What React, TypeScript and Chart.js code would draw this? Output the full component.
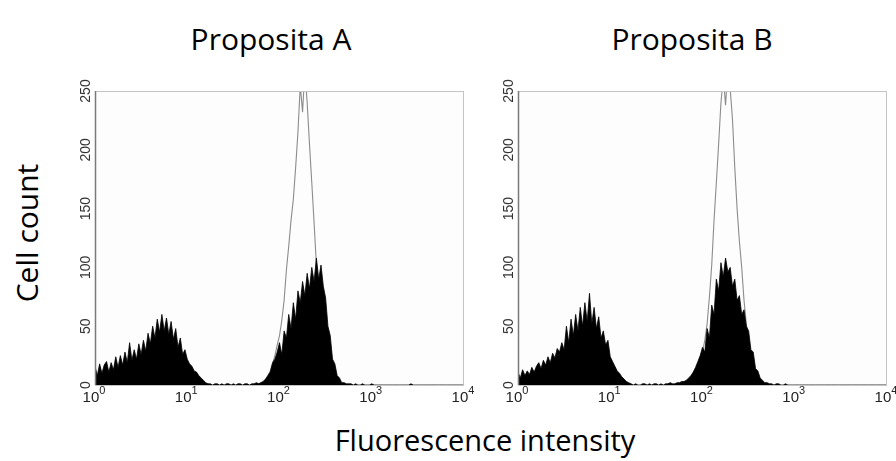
import React, { useEffect, useRef } from "react";
import { Chart, registerables } from "chart.js";

Chart.register(...registerables);

// Histogram channels: 40 channels per decade, channel i -> intensity 10^(i/40)
const CHANNELS_PER_DECADE = 40;
const OUTLINE_START = 70;

const Y_TICKS = [0, 50, 100, 150, 200, 250];
const X_EXPONENTS = [0, 1, 2, 3, 4];

// Proposita A – filled (patient) histogram, channels 0..160
const fillA = [
  16, 8, 18, 10, 17, 20, 11, 19, 13, 24,
  15, 25, 17, 28, 19, 36, 21, 30, 22, 35,
  26, 38, 29, 44, 35, 50, 40, 56, 45, 60,
  46, 57, 43, 54, 39, 48, 32, 40, 26, 30,
  22, 18, 16, 12, 11, 8, 6, 4, 2, 1,
  1, 0, 1, 1, 0, 1, 0, 1, 1, 0, 1, 0, 1, 1, 0, 1, 1, 0, 1, 1, 2, 1,
  2, 3, 5, 8, 11, 19, 22, 28,
  36, 26, 46, 40, 60, 48, 70, 56, 80, 70,
  88, 76, 95, 82, 100, 88, 108, 90, 102, 84,
  74, 50, 42, 22, 18, 8, 6, 2, 2, 1,
  1, 1, 0, 1, 0, 0, 1, 0, 0, 0,
  1, 0, 0, 0, 0, 0, 0, 0, 0, 0,
  0, 0, 0, 0, 0, 0, 0, 1, 0, 0,
  0, 0, 0, 0, 0, 0, 0, 0, 0, 0,
  0, 0, 0, 0, 0, 0, 0, 0, 0, 0,
  0,
];

// Proposita A – control outline histogram, channels 70..109
const outlineA = [
  1, 1, 2, 3, 5, 8, 12, 18, 25, 34,
  42, 55, 72, 98, 118, 140, 158, 185, 215, 255,
  232, 268, 240, 205, 172, 138, 102, 75, 55, 38,
  25, 15, 9, 5, 3, 2, 1, 1, 0, 0,
];

// Proposita B – filled histogram, channels 0..160
const fillB = [
  11, 6, 13, 8, 12, 9, 15, 11, 16, 19,
  14, 21, 17, 24, 19, 27, 23, 31, 28, 36,
  30, 50, 36, 56, 42, 60, 46, 66, 50, 70,
  54, 78, 52, 66, 48, 58, 40, 46, 34, 38,
  24, 20, 16, 12, 10, 7, 5, 3, 2, 1,
  0, 1, 0, 0, 1, 1, 0, 1, 0, 1, 1, 0, 1, 0, 1, 1, 2, 1, 1, 2, 2, 3,
  3, 4, 6, 8, 11, 15, 20, 25,
  32, 28, 48, 40, 68, 60, 90, 80, 104, 92,
  108, 96, 100, 84, 90, 72, 76, 60, 64, 50,
  46, 30, 28, 14, 12, 6, 4, 2, 2, 1,
  1, 0, 1, 1, 0, 0, 1, 0, 0, 0,
  0, 0, 0, 0, 0, 0, 0, 0, 0, 0,
  0, 0, 0, 0, 0, 0, 0, 0, 0, 0,
  0, 0, 0, 0, 0, 0, 0, 0, 0, 0,
  0, 0, 0, 0, 0, 0, 0, 0, 0, 0,
  0,
];

// Proposita B – control outline histogram, channels 70..109
const outlineB = [
  1, 2, 2, 3, 4, 6, 8, 11, 15, 20,
  28, 38, 52, 75, 102, 140, 172, 205, 240, 262,
  238, 270, 252, 226, 185, 150, 122, 100, 72, 52,
  34, 20, 12, 7, 4, 2, 1, 1, 0, 0,
];

const TITLES = ["Proposita A", "Proposita B"];
const Y_TITLE = "Cell count";
const X_TITLE = "Fluorescence intensity";

const toPoints = (values: number[], start: number) =>
  values.map((v, k) => ({ x: Math.pow(10, (start + k) / CHANNELS_PER_DECADE), y: v }));

const framePlugin = {
  id: "flowFrame",
  beforeDatasetsDraw(chart: any) {
    const { ctx, chartArea } = chart;
    ctx.save();
    ctx.fillStyle = "#fdfdfd";
    ctx.fillRect(chartArea.left, chartArea.top, chartArea.right - chartArea.left, chartArea.bottom - chartArea.top);
    ctx.restore();
  },
  afterDraw(chart: any) {
    const { ctx, chartArea, scales } = chart;
    const { left, right, top, bottom } = chartArea;
    ctx.save();
    ctx.strokeStyle = "#c4c4c4";
    ctx.lineWidth = 1;
    ctx.strokeRect(left + 0.5, top + 0.5, right - left - 1, bottom - top);
    ctx.strokeStyle = "#7a7a7a";
    ctx.lineWidth = 1.5;
    ctx.beginPath();
    ctx.moveTo(left + 0.5, top);
    ctx.lineTo(left + 0.5, bottom);
    ctx.stroke();

    // y tick labels, rotated
    ctx.fillStyle = "#333";
    ctx.font = "14px 'Liberation Sans', Arial, sans-serif";
    ctx.textAlign = "center";
    ctx.textBaseline = "middle";
    for (const v of Y_TICKS) {
      const y = scales.y.getPixelForValue(v);
      ctx.save();
      ctx.translate(left - 9, y);
      ctx.rotate(-Math.PI / 2);
      ctx.fillText(String(v), 0, 0);
      ctx.restore();
    }

    // x tick labels 10^n
    ctx.fillStyle = "#222";
    ctx.textBaseline = "alphabetic";
    ctx.textAlign = "left";
    for (const e of X_EXPONENTS) {
      const x = scales.x.getPixelForValue(Math.pow(10, e));
      ctx.font = "15px 'Liberation Sans', Arial, sans-serif";
      const wBase = ctx.measureText("10").width;
      ctx.font = "11px 'Liberation Sans', Arial, sans-serif";
      const wExp = ctx.measureText(String(e)).width;
      const start = x - (wBase + wExp) / 2 - 1;
      ctx.font = "15px 'Liberation Sans', Arial, sans-serif";
      ctx.fillText("10", start, bottom + 17);
      ctx.font = "11px 'Liberation Sans', Arial, sans-serif";
      ctx.fillText(String(e), start + wBase, bottom + 9);
    }
    ctx.restore();
  },
};

type PanelProps = {
  fill: number[];
  outline: number[];
  left: number;
  width: number;
  padLeft: number;
  padRight: number;
};

function HistPanel({ fill, outline, left, width, padLeft, padRight }: PanelProps) {
  const ref = useRef<HTMLCanvasElement | null>(null);
  useEffect(() => {
    if (!ref.current) return;
    const chart = new Chart(ref.current, {
      type: "line",
      data: {
        datasets: [
          {
            data: toPoints(fill, 0),
            borderColor: "#000",
            backgroundColor: "#000",
            borderWidth: 0.8,
            pointRadius: 0,
            fill: "origin",
            tension: 0,
            order: 0,
          },
          {
            data: toPoints(outline, OUTLINE_START),
            borderColor: "#8c8c8c",
            borderWidth: 1.1,
            pointRadius: 0,
            fill: false,
            tension: 0,
            order: 1,
          },
        ],
      },
      options: {
        animation: false,
        responsive: false,
        maintainAspectRatio: false,
        layout: { padding: { left: padLeft, right: padRight, top: 21, bottom: 25 } },
        plugins: { legend: { display: false }, tooltip: { enabled: false }, title: { display: false } },
        scales: {
          x: { type: "logarithmic", min: 1, max: 10000, display: false },
          y: { type: "linear", min: 0, max: 250, display: false },
        },
      },
      plugins: [framePlugin],
    } as any);
    return () => chart.destroy();
  }, []);
  return (
    <canvas
      ref={ref}
      width={width}
      height={340}
      style={{ position: "absolute", left, top: 70, width, height: 340 }}
    />
  );
}

const textStyle: React.CSSProperties = {
  position: "absolute",
  fontFamily: "'Open Sans', sans-serif",
  fontSize: 30,
  color: "#000",
  textAlign: "center",
  whiteSpace: "nowrap",
  lineHeight: "40px",
  height: 40,
};

export default function App() {
  return (
    <div style={{ position: "absolute", left: 0, top: 0, width: 896, height: 461, background: "#fff", overflow: "hidden" }}>
      <div style={{ ...textStyle, left: 161, top: 19, width: 220 }}>{TITLES[0]}</div>
      <div style={{ ...textStyle, left: 582, top: 19, width: 220 }}>{TITLES[1]}</div>
      <div style={{ ...textStyle, left: -83, top: 213, width: 220, transform: "rotate(-90deg)" }}>{Y_TITLE}</div>
      <div style={{ ...textStyle, fontSize: 29, left: 285, top: 420, width: 400 }}>{X_TITLE}</div>
      <HistPanel fill={fillA} outline={outlineA} left={60} width={420} padLeft={35} padRight={16} />
      <HistPanel fill={fillB} outline={outlineB} left={480} width={416} padLeft={38} padRight={9} />
    </div>
  );
}
